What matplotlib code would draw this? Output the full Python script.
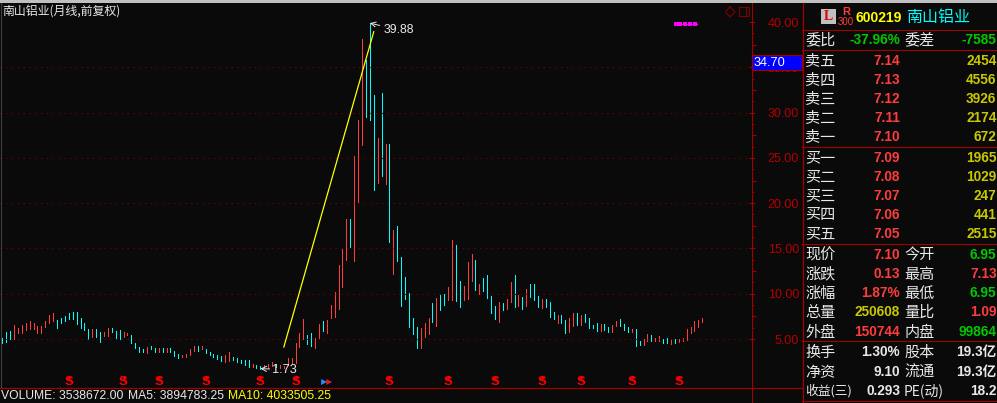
import matplotlib
matplotlib.use("Agg")
import matplotlib.pyplot as plt
from matplotlib.patches import Rectangle, Polygon
from matplotlib.transforms import blended_transform_factory

plt.rcParams['font.family'] = ['Liberation Sans', 'Noto Sans CJK SC', 'DejaVu Sans']

# ── Data ───────────────────────────────────────────────────
highs = [5.14, 5.81, 5.92, 6.54, 6.17, 6.54, 6.73, 6.98, 6.80, 6.47, 6.47, 7.02, 7.65, 7.83, 7.09,
         7.35, 7.54, 7.83, 7.94, 7.94, 7.28, 6.80, 6.10, 6.10, 6.10, 5.81, 5.81, 6.25, 6.17, 5.92,
         5.99, 5.81, 5.62, 5.44, 4.52, 4.15, 3.86, 4.15, 4.22, 4.04, 4.04, 4.04, 3.97, 3.97, 3.71,
         3.34, 3.23, 3.34, 3.86, 4.22, 4.26, 4.26, 3.89, 3.60, 3.34, 3.23, 3.12, 3.23, 3.60, 2.97,
         2.86, 2.68, 2.68, 2.68, 2.24, 2.13, 2.02, 2.13, 2.24, 2.42, 2.24, 2.13, 2.02, 2.86, 2.94,
         4.52, 5.63, 7.17, 5.44, 5.63, 5.07, 6.62, 6.99, 7.10, 8.75, 10.15, 13.17, 14.90, 18.25, 18.21,
         25.24, 29.18, 38.12, 35.80, 39.88, 31.94, 27.19, 32.16, 26.53, 26.53, 17.03, 17.48, 14.02, 11.81, 10.04,
         7.28, 6.29, 6.18, 6.73, 7.28, 8.94, 9.49, 9.97, 9.93, 10.70, 15.93, 15.38, 11.40, 10.85, 13.50,
         14.38, 13.72, 11.07, 11.70, 12.07, 9.75, 8.64, 9.05, 8.93, 9.38, 11.29, 12.06, 9.85, 9.60, 10.48,
         11.07, 11.07, 9.74, 9.41, 9.41, 9.08, 7.98, 7.65, 7.65, 7.10, 7.31, 7.87, 7.87, 7.65, 7.76,
         7.31, 6.54, 6.76, 6.65, 6.65, 6.32, 6.54, 6.98, 7.20, 6.65, 6.32, 6.10, 6.10, 4.77, 4.96,
         5.55, 5.44, 5.11, 5.33, 4.96, 5.11, 4.89, 4.96, 4.96, 5.11, 6.10, 6.32, 6.98, 7.10, 7.31]
lows = [4.59, 4.70, 4.96, 4.96, 5.62, 5.70, 5.99, 6.06, 6.06, 5.70, 5.62, 6.28, 6.73, 6.98, 6.25,
        6.73, 7.02, 7.17, 7.17, 6.65, 6.25, 5.99, 4.96, 5.25, 5.25, 4.70, 5.33, 5.33, 5.81, 4.96,
        4.96, 5.25, 5.44, 4.52, 3.97, 3.60, 3.52, 3.49, 3.86, 3.60, 3.60, 3.60, 3.60, 3.60, 3.12,
        2.94, 2.97, 2.97, 3.19, 3.71, 3.71, 3.86, 3.49, 3.23, 2.97, 2.75, 2.61, 2.49, 2.61, 2.68,
        2.49, 2.31, 2.13, 1.94, 1.87, 1.76, 1.73, 1.94, 1.76, 2.05, 1.87, 1.76, 1.85, 2.13, 2.31,
        2.31, 4.15, 4.96, 4.45, 4.27, 3.97, 5.07, 5.88, 5.63, 7.28, 7.47, 8.31, 10.78, 13.72, 15.19,
        13.61, 20.13, 26.42, 29.51, 29.18, 21.45, 22.22, 23.00, 22.11, 15.75, 12.18, 13.61, 8.68, 9.42, 6.36,
        5.55, 4.04, 4.04, 5.18, 5.55, 6.84, 6.44, 8.20, 8.75, 9.30, 9.30, 9.20, 8.57, 9.30, 9.42,
        11.40, 10.41, 9.97, 10.30, 9.56, 7.91, 7.21, 6.91, 8.20, 8.31, 9.08, 8.53, 8.64, 8.31, 8.64,
        9.63, 9.30, 8.53, 8.42, 8.53, 7.43, 7.20, 6.76, 6.76, 5.66, 5.77, 6.43, 6.54, 6.54, 6.87,
        6.21, 6.21, 5.88, 5.88, 5.99, 5.77, 5.77, 6.43, 6.43, 5.99, 5.77, 5.77, 4.22, 4.33, 4.33,
        4.77, 4.77, 4.77, 4.77, 4.55, 4.55, 4.44, 4.55, 4.66, 4.77, 4.89, 5.66, 5.88, 6.32, 6.87]
# 1 = red month, 0 = cyan month
up = [0, 0, 0, 1, 1, 1, 1, 1, 1, 1, 1, 1, 1, 1, 0,
      0, 0, 0, 0, 0, 0, 0, 0, 1, 0, 0, 1, 1, 0, 0,
      0, 1, 1, 0, 0, 0, 0, 1, 0, 0, 1, 0, 1, 0, 0,
      0, 1, 1, 1, 1, 0, 1, 0, 0, 0, 0, 0, 1, 1, 0,
      0, 0, 0, 0, 1, 0, 0, 1, 1, 1, 0, 1, 1, 1, 1,
      1, 1, 1, 0, 0, 1, 1, 0, 1, 1, 1, 1, 1, 1, 0,
      1, 1, 1, 0, 0, 0, 1, 0, 1, 0, 1, 0, 0, 0, 0,
      0, 0, 1, 1, 1, 0, 1, 0, 0, 1, 1, 0, 0, 1, 1,
      1, 0, 1, 0, 0, 0, 0, 1, 0, 1, 1, 0, 1, 0, 1,
      0, 0, 0, 1, 0, 0, 0, 1, 0, 0, 1, 1, 0, 1, 0,
      0, 0, 0, 1, 0, 0, 1, 1, 0, 0, 0, 1, 0, 0, 1,
      1, 0, 1, 1, 0, 0, 1, 0, 1, 1, 1, 1, 1, 1, 1]

s_bars = [17, 31, 40, 52, 66, 75, 99, 114, 126, 138, 148, 161, 173]
trend_x = [72, 95]
trend_y = [4.12, 38.93]
major_ticks = [5, 10, 15, 20, 25, 30, 35, 40]
grid_levels = [5, 10, 15, 20, 25, 30, 35]
mid_ticks = [7.5, 12.5, 17.5, 22.5, 27.5, 32.5, 37.5]
small_ticks = [6.25, 8.75, 11.25, 13.75, 16.25, 18.75, 21.25, 23.75, 26.25, 28.75, 31.25, 33.75, 36.25, 38.75]

book_rows = [("卖五", "7.14", "2454", 61), ("卖四", "7.13", "4556", 80), ("卖三", "7.12", "3926", 99),
             ("卖二", "7.11", "2174", 118), ("卖一", "7.10", "672", 137),
             ("买一", "7.09", "1965", 158), ("买二", "7.08", "1029", 177), ("买三", "7.07", "247", 196),
             ("买四", "7.06", "441", 215), ("买五", "7.05", "2515", 234)]

BG = "#0a0a0a"
RED = "#ff3c3c"
CYAN = "#00ffff"
GREEN = "#00c800"
OLIVE = "#c8c800"
WHITE = "#e8e8e8"
DARK = "#a00000"
stat_rows = [("委比", "-37.96%", GREEN, "委差", "-7585", GREEN, 40),
             ("现价", "7.10", RED, "今开", "6.95", GREEN, 255),
             ("涨跌", "0.13", RED, "最高", "7.13", RED, 274),
             ("涨幅", "1.87%", RED, "最低", "6.95", GREEN, 293),
             ("总量", "250608", OLIVE, "量比", "1.09", RED, 312),
             ("外盘", "150744", RED, "内盘", "99864", GREEN, 332),
             ("换手", "1.30%", WHITE, "股本", "19.3亿", WHITE, 352),
             ("净资", "9.10", WHITE, "流通", "19.3亿", WHITE, 372),
             ("收益(三)", "0.293", WHITE, "PE(动)", "18.2", WHITE, 391)]
marker_strip = [675.5, 680, 685, 690, 695]

W, H = 997, 403
fig = plt.figure(figsize=(W / 100, H / 100), dpi=100, facecolor=BG)

# ── Candles ────────────────────────────────────────────────
ax = fig.add_axes([0, (H - 388) / H, 751.5 / W, 388 / H], facecolor=BG)
x = list(range(len(highs)))
ax.vlines(x, lows, highs, colors=[RED if u else CYAN for u in up], linewidth=0.72, antialiased=False)
ax.set_xlim(-0.588, 191.6)
ax.set_ylim(-0.41, 42.43)
ax.set_xticks([])
for name in ("top", "bottom", "left"):
    ax.spines[name].set_visible(False)
ax.spines["right"].set_color(DARK)
ax.spines["right"].set_linewidth(0.8)

ax.yaxis.tick_right()
ax.set_yticks(major_ticks)
ax.set_yticklabels([f"{v:.2f}" for v in major_ticks], fontsize=9.0, color="#b40000", ha="right")
ax.set_yticks(small_ticks + mid_ticks, minor=True)
ax.tick_params(axis="y", which="major", direction="inout", length=5, width=0.8, color=DARK, pad=31.7)
ax.tick_params(axis="y", which="minor", direction="out", length=1.2, width=0.8, color=DARK)

trans = blended_transform_factory(ax.transAxes, ax.transData)
ax.hlines(mid_ticks, 1.0, 1.0055, colors=DARK, linewidth=0.8, transform=trans, clip_on=False)
ax.hlines(grid_levels, 0, 1, colors="#700000", linewidth=0.8, linestyles=(0, (1.2, 4.0)), transform=trans)

ax.plot(trend_x, trend_y, color="#ffff00", linewidth=0.9)

# ── High / low callouts ────────────────────────────────────
ax.annotate("39.88", xy=(94, 39.88), xytext=(14, -7), textcoords="offset pixels", color=WHITE, fontsize=8.8,
            va="center", arrowprops=dict(arrowstyle="->", color=WHITE, lw=0.7, shrinkA=1, shrinkB=0))
ax.annotate("1.73", xy=(66, 1.73), xytext=(12, -1), textcoords="offset pixels", color=WHITE, fontsize=9.2,
            va="center", arrowprops=dict(arrowstyle="->", color=WHITE, lw=0.7, shrinkA=0, shrinkB=0))

# ── S signals along the bottom ─────────────────────────────
sig = blended_transform_factory(ax.transData, ax.transAxes)
for b in s_bars:
    ax.text(b, 0.0142, "S", color="#ff0000", fontsize=9.5, fontweight="bold", ha="center", va="center", transform=sig)
ax.scatter(s_bars, [0.0289] * len(s_bars), marker="^", s=9, color="#ff0000", linewidths=0, transform=sig)
ax.scatter([82.3, 83.6], [0.0155, 0.0155], marker=">", s=18, color=["#2a8cff", "#e02020"], linewidths=0, transform=sig)

# ── Overlay in pixel coordinates ───────────────────────────
ov = fig.add_axes([0, 0, 1, 1], facecolor="none")
ov.set_xlim(0, W)
ov.set_ylim(H, 0)
ov.axis("off")

ov.add_patch(Rectangle((0, 0), W, 3, color="#c0c0c0", linewidth=0))
ov.plot([0.5, 0.5], [3, 388], color="#404040", linewidth=0.8)
ov.plot([0, 802], [388, 388], color=DARK, linewidth=0.9)
ov.plot([751.7, 751.7], [388, 403], color=DARK, linewidth=0.8)
ov.plot([802.5, 802.5], [3, 403], color=DARK, linewidth=0.9)
for yy in (30, 50, 147, 244, 341, 401):
    ov.plot([802, W], [yy, yy], color=DARK, linewidth=0.8)

ov.text(2, 11.5, "南山铝业(月线,前复权)", color=WHITE, fontsize=8.6, va="center", family=["Noto Sans CJK SC", "DejaVu Sans"])

# little window icons and the magenta marker strip
ov.add_patch(Polygon([(730, 6.5), (735, 12), (730, 17), (725.5, 12)], fill=False, edgecolor="#800000", linewidth=0.8))
ov.add_patch(Rectangle((739, 6.5), 9.5, 9, fill=False, edgecolor="#800000", linewidth=0.8))
ov.plot([746, 746], [6.5, 15.5], color="#800000", linewidth=0.8)
ov.scatter(marker_strip, [23.5] * len(marker_strip), marker="s", s=8, color="#ff00ff", linewidths=0)
ov.plot([674, 697], [23.5, 23.5], color="#ff00ff", linewidth=0.8)

ov.add_patch(Rectangle((752, 54.5), 50, 15.5, facecolor="#0000ff", edgecolor="#a00000", linewidth=0.9))
ov.text(753.5, 62.5, "34.70", color="white", fontsize=9.2, va="center")

ov.text(1, 396, "VOLUME: 3538672.00", color=WHITE, fontsize=8.7, va="center")
ov.text(128, 396, "MA5: 3894783.25", color=WHITE, fontsize=8.7, va="center")
ov.text(228, 396, "MA10: 4033505.25", color="#ffff00", fontsize=8.7, va="center")

# ── Quote panel ────────────────────────────────────────────
ov.add_patch(Rectangle((821, 9), 15, 15, color="#c0c0c0", linewidth=0))
ov.text(828.5, 16.5, "L", color="#e00000", fontsize=10, fontweight="bold", ha="center", va="center", family="Liberation Serif")
ov.text(846, 12, "R", color=RED, fontsize=8, fontweight="bold", ha="center", va="center")
ov.text(846, 22, "300", color=RED, fontsize=7, ha="center", va="center")
ov.text(855, 17.5, "600219", color="#ffff00", fontsize=10, fontweight="bold", va="center")
ov.text(906, 17, "南山铝业", color=CYAN, fontsize=11.5, va="center", family=["Noto Sans CJK SC", "DejaVu Sans"])

CJK = ["Noto Sans CJK SC", "DejaVu Sans"]
NUM = dict(fontsize=9.8, fontweight="bold", va="center", ha="right", clip_on=True)

for label, price, size, yy in book_rows:
    ov.text(805, yy, label, color=WHITE, fontsize=10.9, va="center", family=CJK)
    ov.text(900, yy, price, color=RED, **NUM)
    ov.text(996.5, yy, size, color=OLIVE, **NUM)

for left, lval, lcol, right, rval, rcol, yy in stat_rows:
    fs = 9.2 if "(" in left else 10.9
    ov.text(805, yy, left, color=WHITE, fontsize=fs, va="center", family=CJK)
    ov.text(900, yy, lval, color=lcol, **NUM)
    fs = 10.0 if "(" in right else 10.9
    ov.text(904, yy, right, color=WHITE, fontsize=fs, va="center", family=CJK)
    ov.text(996.5, yy, rval, color=rcol, **NUM)

fig.savefig("out.png", dpi=100, facecolor=BG)
